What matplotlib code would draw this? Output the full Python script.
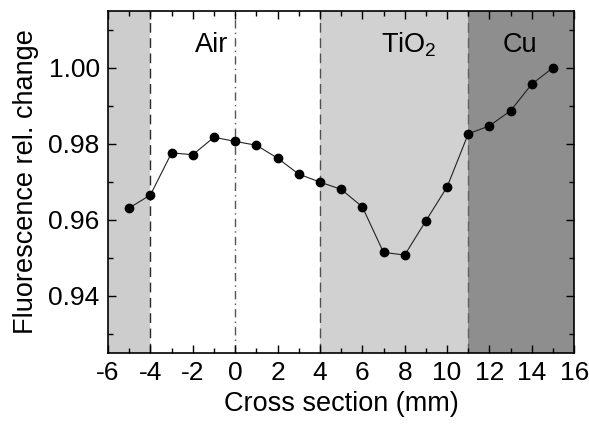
import numpy as np
import matplotlib.pyplot as plt
from matplotlib.ticker import MultipleLocator

plt.rcParams['font.family'] = ['Liberation Sans', 'DejaVu Sans']
plt.rcParams['mathtext.default'] = 'regular'
plt.rcParams['axes.unicode_minus'] = False

# cross section positions (mm) and fluorescence values
pos = [-5, -4, -3, -2, -1, 0, 1, 2, 3, 4, 5, 6, 7, 8, 9, 10, 11, 12, 13, 14, 15]
fluo = [0.9631, 0.9665, 0.9776, 0.9771, 0.9817, 0.9806, 0.9796, 0.9762, 0.9720,
        0.9699, 0.9680, 0.9634, 0.9514, 0.9507, 0.9597, 0.9686, 0.9826, 0.9847,
        0.9887, 0.9957, 1.0000]

# material regions
region_edges = [-6, -4, 4, 11, 16]
region_colors = ['#cdcdcd', '#ffffff', '#d1d1d1', '#8e8e8e']
region_names = ['', 'Air', 'TiO$_{2}$', 'Cu']
name_x = [None, -1.12, 8.2, 13.46]

fig = plt.figure(figsize=(5.89, 4.29), dpi=100)
ax = fig.add_axes([0.1834, 0.1779, 0.7915, 0.7971])

for i in range(len(region_colors)):
    ax.axvspan(region_edges[i], region_edges[i + 1], color=region_colors[i], lw=0, zorder=0)
    if region_names[i]:
        ax.text(name_x[i], 1.0041, region_names[i], ha='center', va='baseline', fontsize=19.5)

ax.axvline(-4, color='#2a2a2a', ls=(0, (7, 4)), lw=1.0, zorder=1)
ax.axvline(4, color='#505050', ls=(0, (7, 4)), lw=1.0, zorder=1)
ax.axvline(11, color='#606060', ls=(0, (7, 4)), lw=1.0, zorder=1)
ax.axvline(0, color='#555555', ls=(0, (6, 3, 1, 3)), lw=1.0, zorder=1)

ax.plot(pos, fluo, color='#222222', lw=0.8, marker='o', ms=6, mfc='black', mec='black', zorder=3)

ax.set_xlim(-6, 16)
ax.set_ylim(0.925, 1.015)
ax.xaxis.set_major_locator(MultipleLocator(2))
ax.xaxis.set_minor_locator(MultipleLocator(1))
ax.yaxis.set_major_locator(MultipleLocator(0.02))
ax.yaxis.set_minor_locator(MultipleLocator(0.01))
ax.yaxis.set_major_formatter(plt.FuncFormatter(lambda v, p: '%.2f' % v))
ax.tick_params(which='both', direction='in', top=True, right=True, labelsize=19, width=1.0)
ax.tick_params(which='major', length=6, pad=6)
ax.tick_params(which='minor', length=3.5)
for s in ax.spines.values():
    s.set_linewidth(1.2)

ax.set_xlabel('Cross section (mm)', fontsize=19.5, labelpad=4)
ax.set_ylabel('Fluorescence rel. change', fontsize=19.5, labelpad=7)

fig.savefig('out.png', dpi=100)
